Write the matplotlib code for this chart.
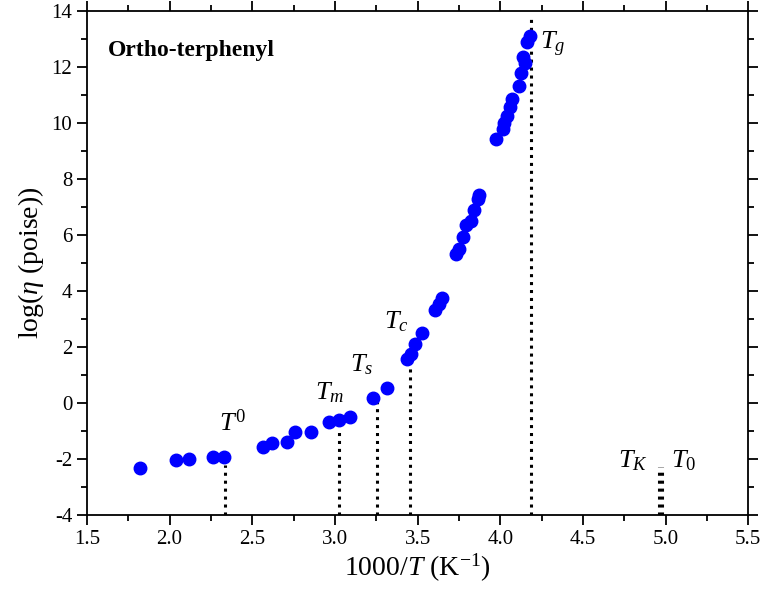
import numpy as np
import matplotlib
matplotlib.use("Agg")
import matplotlib.pyplot as plt
from matplotlib.ticker import MultipleLocator

plt.rcParams['font.family'] = ['Liberation Serif', 'DejaVu Serif']
plt.rcParams['mathtext.fontset'] = 'custom'
plt.rcParams['mathtext.it'] = 'Liberation Serif:italic'
plt.rcParams['mathtext.rm'] = 'Liberation Serif'
plt.rcParams['axes.unicode_minus'] = False

# ---------- DATA ----------
inv_T = [1.82, 2.04, 2.12, 2.26, 2.33, 2.563, 2.621, 2.708, 2.760, 2.854,
         2.966, 3.027, 3.092, 3.233, 3.317, 3.434, 3.461, 3.487, 3.525,
         3.606, 3.632, 3.650, 3.731, 3.751, 3.775, 3.793, 3.826, 3.844,
         3.864, 3.872, 3.975, 4.016, 4.023, 4.040, 4.060, 4.072, 4.112,
         4.124, 4.140, 4.152, 4.161, 4.181]
log_eta = [-2.32, -2.04, -2.00, -1.93, -1.93, -1.56, -1.44, -1.39, -1.04, -1.04,
           -0.67, -0.61, -0.51, 0.19, 0.55, 1.56, 1.75, 2.10, 2.51,
           3.32, 3.54, 3.76, 5.32, 5.49, 5.92, 6.36, 6.50, 6.89,
           7.27, 7.41, 9.43, 9.77, 9.99, 10.23, 10.56, 10.84, 11.33,
           11.80, 12.34, 12.15, 12.88, 13.12]

# characteristic temperatures (1000/T) and where the dotted marker starts
mark_x = [2.335, 3.024, 3.253, 3.453, 4.188, 4.959, 4.976]
mark_top = [-2.2, -0.95, 0.1, 1.3, 13.8, -2.3, -2.3]
mark_names = [r'$T^0$', r'$T_m$', r'$T_s$', r'$T_c$', r'$T_g$', r'$T_K$', r'$T_0$']
label_pos = [(2.38, -0.7), (2.97, 0.35), (3.16, 1.35), (3.37, 2.9), (4.32, 12.8),
             (4.80, -2.05), (5.11, -2.05)]

# ---------- PLOT ----------
fig = plt.figure(figsize=(7.62, 6.07), dpi=100)
ax = fig.add_axes([0.114, 0.1516, 0.868, 0.8304])

for x, top in zip(mark_x, mark_top):
    ax.plot([x, x], [-4, top], color='black', linestyle=(0, (1, 1.6)), linewidth=2.2, zorder=1)

ax.plot(inv_T, log_eta, 'o', color='#0000FF', markersize=9, zorder=3)

for name, (lx, ly) in zip(mark_names, label_pos):
    ax.text(lx, ly, name, fontsize=19, ha='center', va='center')

ax.text(1.63, 12.6, 'Ortho-terphenyl', fontsize=17, fontweight='bold', ha='left', va='center')

ax.set_xlim(1.5, 5.5)
ax.set_ylim(-4, 14)
ax.xaxis.set_major_locator(MultipleLocator(0.5))
ax.xaxis.set_minor_locator(MultipleLocator(0.25))
ax.yaxis.set_major_locator(MultipleLocator(2))
ax.yaxis.set_minor_locator(MultipleLocator(1))
ax.xaxis.set_major_formatter(matplotlib.ticker.FormatStrFormatter('%.1f'))

ax.tick_params(which='both', direction='out', top=True, right=True, labelsize=15, width=1.3)
ax.tick_params(which='major', length=7)
ax.tick_params(which='minor', length=4)
for s in ax.spines.values():
    s.set_linewidth(1.3)

ax.set_xlabel(r'1000/$T$ (K$^{\mathregular{-1}}$)', fontsize=20, labelpad=2)
ax.set_ylabel(r'log($\eta$ (poise))', fontsize=20, labelpad=4)

fig.savefig('out.png', dpi=100)
